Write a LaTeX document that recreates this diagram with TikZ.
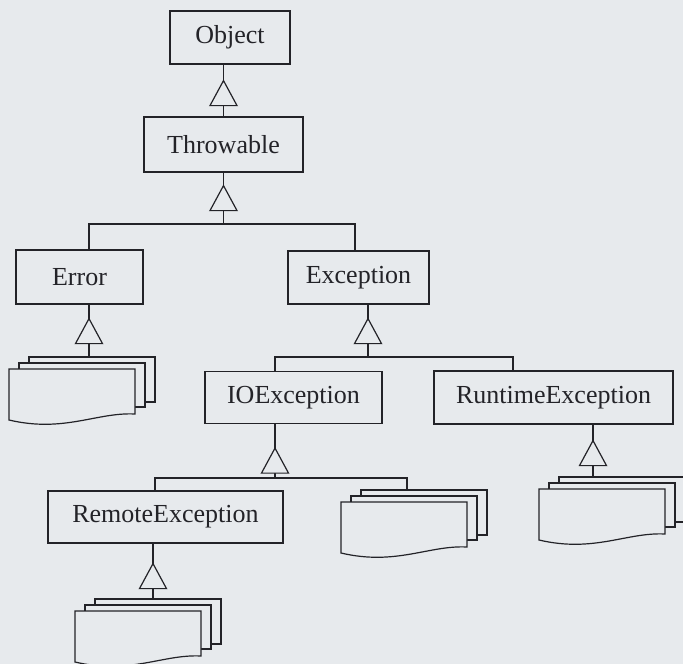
\documentclass[tikz,border=0pt]{standalone}
\usepackage{fontspec}
\setmainfont{Liberation Serif}
\definecolor{paper}{RGB}{231,234,237}
\definecolor{ink}{RGB}{35,35,40}

\begin{document}
\begin{tikzpicture}[x=1pt,y=-1pt,color=ink,line width=1.2pt,
    cls/.style={draw=ink, inner sep=0pt, text=ink,
      font=\fontsize{26}{30}\selectfont}]
  % Define the open triangle and the stack of sheets
  \def\tri{-- ++(-13.5,25) -- ++(27,0) -- cycle}
  \def\docstack#1#2{%
    \filldraw[fill=paper] (#1,#2) rectangle ++(126,45);
    \filldraw[fill=paper] (#1-10,#2+6) rectangle ++(126,44);
    \filldraw[fill=paper] (#1-20,#2+12) -- ++(126,0) -- ++(0,45)
      .. controls (#1+68,#2+55) and (#1+35,#2+76) .. (#1-20,#2+63) -- cycle;}

  % Page
  \useasboundingbox (0,0) rectangle (683,664);
  \clip (0,0) rectangle (683,664);
  \fill[paper] (0,0) rectangle (683,664);

  % Classes
  \node[cls, minimum width=120pt, minimum height=53pt] (obj) at (230,37.5) {Object};
  \node[cls, minimum width=159pt, minimum height=55pt] (thr) at (223.5,144.5) {Throwable};
  \node[cls, minimum width=127pt, minimum height=54pt] (err) at (79.5,277) {Error};
  \node[cls, minimum width=141pt, minimum height=53pt] (exc) at (358.5,277.5) {Exception};
  \node[cls, minimum width=177pt, minimum height=52pt] (ioe) at (293.5,397.5) {IOException};
  \node[cls, minimum width=239pt, minimum height=53pt] (rte) at (553.5,397.5) {RuntimeException};
  \node[cls, minimum width=235pt, minimum height=52pt] (rme) at (165.5,517) {RemoteException};

  % Stacks of further subclasses
  \docstack{29}{357}
  \docstack{361}{490}
  \docstack{559}{477}
  \docstack{95}{599}
  \coordinate (errkids) at (89,357);
  \coordinate (ioekids) at (407,490);
  \coordinate (rtekids) at (593,477);
  \coordinate (rmekids) at (153,599);

  % Bus lines
  \coordinate (tbus) at (0,224);
  \coordinate (ebus) at (0,357);
  \coordinate (ibus) at (0,478);

  % Object <- Throwable
  \draw (thr.north) -- (thr.north |- obj.south);
  \filldraw[fill=paper] (thr.north |- obj.south) ++(0,16) \tri;

  % Throwable <- Error, Exception
  \coordinate (errin) at ([xshift=9.5pt]err.north);
  \coordinate (excin) at ([xshift=-3.5pt]exc.north);
  \draw (thr.south) -- (thr.south |- tbus);
  \filldraw[fill=paper] (thr.south) ++(0,13) \tri;
  \draw (errin) |- (tbus -| excin) -- (excin);

  % Error <- stack
  \coordinate (errout) at ([xshift=9.5pt]err.south);
  \draw (errout) -- (errkids);
  \filldraw[fill=paper] (errout) ++(0,14) \tri;

  % Exception <- IOException, RuntimeException
  \coordinate (excout) at ([xshift=9.5pt]exc.south);
  \coordinate (ioein) at ([xshift=-18.5pt]ioe.north);
  \coordinate (rtein) at ([xshift=-40.5pt]rte.north);
  \draw (excout) -- (excout |- ebus);
  \filldraw[fill=paper] (excout) ++(0,14) \tri;
  \draw (ioein) |- (ebus -| rtein) -- (rtein);

  % IOException <- RemoteException, stack
  \coordinate (ioeout) at ([xshift=-18.5pt]ioe.south);
  \coordinate (rmein) at ([xshift=-10.5pt]rme.north);
  \draw (ioeout) -- (ioeout |- ibus);
  \filldraw[fill=paper] (ioeout) ++(0,24) \tri;
  \draw (rmein) |- (ibus -| ioekids) -- (ioekids);

  % RuntimeException <- stack
  \coordinate (rteout) at ([xshift=39.5pt]rte.south);
  \draw (rteout) -- (rtekids);
  \filldraw[fill=paper] (rteout) ++(0,16) \tri;

  % RemoteException <- stack
  \coordinate (rmeout) at ([xshift=-12.5pt]rme.south);
  \draw (rmeout) -- (rmekids);
  \filldraw[fill=paper] (rmeout) ++(0,20) \tri;
\end{tikzpicture}
\end{document}
